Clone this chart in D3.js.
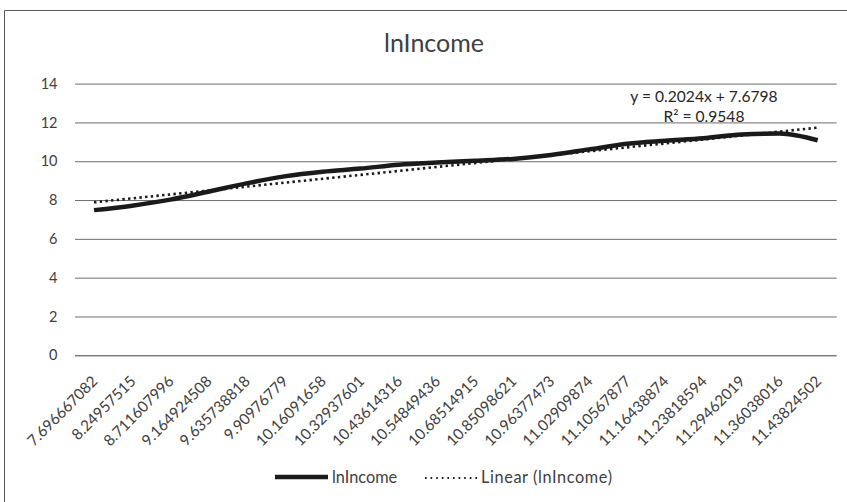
<!DOCTYPE html>
<html>
<head>
<meta charset="utf-8">
<script src="https://cdn.jsdelivr.net/npm/d3@7"></script>
<style>
  html, body { margin: 0; padding: 0; background: #fff; }
  svg { display: block; font-family: Lato, "Open Sans", sans-serif; }
</style>
</head>
<body>
<svg id="chart" width="847" height="502"></svg>
<script>
const categories = ["7.696667082","8.24957515","8.711607996","9.164924508","9.635738818","9.90976779","10.16091658","10.32937601","10.43614316","10.54849436","10.68514915","10.85098621","10.96377473","11.02909874","11.10567877","11.16438874","11.23818594","11.29462019","11.36038016","11.43824502"];
const lnIncome = [7.48, 7.71, 8.02, 8.43, 8.86, 9.22, 9.46, 9.62, 9.82, 9.93, 10.02, 10.12, 10.32, 10.61, 10.90, 11.05, 11.18, 11.38, 11.43, 11.08];
const yTicks = [0, 2, 4, 6, 8, 10, 12, 14];
const trendSlope = 0.2024;
const trendIntercept = 7.6798;
const title = "lnIncome";
const eqText = "y = 0.2024x + 7.6798";
const r2Text = "R² = 0.9548";

const svg = d3.select("#chart");
const pLeft = 75, pRight = 836.7, pTop = 83.6, pBottom = 355.3;
const textCol = "#404040";

const x = d3.scaleBand().domain(categories).range([pLeft, pRight]).padding(0);
const y = d3.scaleLinear().domain([0, 14]).range([pBottom, pTop]);
const cx = c => x(c) + x.bandwidth() / 2;

// chart border (top & left visible)
svg.append("path").attr("d", "M4.5,502 V10.5 H847").attr("fill", "none").attr("stroke", "#595959").attr("stroke-width", 1);

// title
svg.append("text").attr("x", 434).attr("y", 52).attr("text-anchor", "middle")
  .attr("font-size", 25).attr("fill", textCol).text(title);

// gridlines + y labels
const yAxis = d3.axisLeft(y).tickValues(yTicks).tickSize(-(pRight - pLeft)).tickPadding(17.5);
const gy = svg.append("g").attr("transform", `translate(${pLeft},0)`).call(yAxis);
gy.select(".domain").remove();
gy.selectAll(".tick line").attr("stroke", d => d === 0 ? "#404040" : "#6e6e6e").attr("stroke-width", 1);
gy.selectAll(".tick text").attr("font-size", 14.5).attr("fill", textCol).attr("font-family", "Lato, sans-serif");

// x axis labels
const xAxis = d3.axisBottom(x).tickSize(0).tickPadding(0);
const gx = svg.append("g").attr("transform", `translate(0,${pBottom})`).call(xAxis);
gx.select(".domain").remove();
gx.selectAll(".tick text")
  .attr("font-size", 15.2).attr("fill", textCol).attr("font-family", "Lato, sans-serif")
  .attr("text-anchor", "end").attr("dy", 0)
  .attr("transform", "translate(4.5,27) rotate(-45)");

// trend line (dotted)
const n = categories.length;
const trendPts = [[categories[0], trendIntercept + trendSlope * 1], [categories[n - 1], trendIntercept + trendSlope * n]];
svg.append("path")
  .attr("d", d3.line().x(d => cx(d[0])).y(d => y(d[1]))(trendPts))
  .attr("fill", "none").attr("stroke", "#1a1a1a").attr("stroke-width", 2.6)
  .attr("stroke-dasharray", "2.4,3.3");

// main line
svg.append("path")
  .datum(lnIncome)
  .attr("d", d3.line().x((d, i) => cx(categories[i])).y(d => y(d)).curve(d3.curveMonotoneX))
  .attr("fill", "none").attr("stroke", "#1a1a1a").attr("stroke-width", 4.5).attr("stroke-linejoin", "round");

// equation text
svg.append("text").attr("x", 704).attr("y", 102).attr("text-anchor", "middle").attr("font-size", 15.6).attr("fill", "#262626").text(eqText);
svg.append("text").attr("x", 704).attr("y", 122).attr("text-anchor", "middle").attr("font-size", 15.6).attr("fill", "#262626").text(r2Text);

// legend
const lg = svg.append("g");
lg.append("line").attr("x1", 275).attr("x2", 328).attr("y1", 477).attr("y2", 477).attr("stroke", "#1a1a1a").attr("stroke-width", 4.5);
lg.append("text").attr("x", 332).attr("y", 483).attr("font-size", 16.3).attr("fill", textCol).text("lnIncome");
lg.append("line").attr("x1", 425).attr("x2", 477).attr("y1", 478).attr("y2", 478).attr("stroke", "#1a1a1a").attr("stroke-width", 2).attr("stroke-dasharray", "1.6,4");
lg.append("text").attr("x", 481).attr("y", 483).attr("font-size", 16.3).attr("fill", textCol)
  .attr("textLength", 131).attr("lengthAdjust", "spacing").text("Linear (lnIncome)");
</script>
</body>
</html>
